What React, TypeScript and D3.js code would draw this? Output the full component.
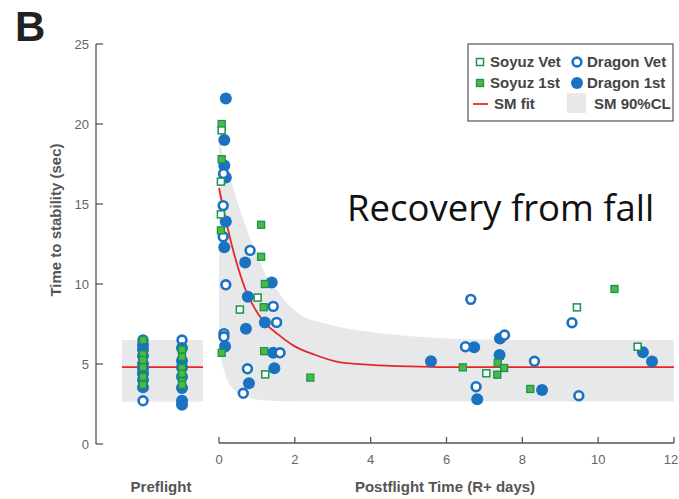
import React from "react";
import * as d3 from "d3";

// ---------- data ----------
const yTicks = [0, 5, 10, 15, 20, 25];
const xTicks = [0, 2, 4, 6, 8, 10, 12];
const preflightColumns = ["pre-1", "pre-2"];

// Preflight values [column, seconds]
const preSoyuzFirst: [string, number][] = [
  ["pre-1", 6.5], ["pre-1", 5.6], ["pre-1", 5.25], ["pre-1", 4.8], ["pre-1", 4.2], ["pre-1", 3.7],
  ["pre-2", 5.9], ["pre-2", 5.45], ["pre-2", 4.75], ["pre-2", 4.4], ["pre-2", 3.9], ["pre-2", 3.7],
];
const preDragonVet: [string, number][] = [
  ["pre-1", 6.5], ["pre-1", 2.7], ["pre-2", 6.5],
];
const preDragonFirst: [string, number][] = [
  ["pre-1", 6.2], ["pre-1", 5.9], ["pre-1", 5.5], ["pre-1", 5.0], ["pre-1", 4.7], ["pre-1", 4.4], ["pre-1", 4.0], ["pre-1", 3.55],
  ["pre-2", 6.0], ["pre-2", 5.2], ["pre-2", 4.8], ["pre-2", 4.2], ["pre-2", 3.5], ["pre-2", 2.7], ["pre-2", 2.45],
];
const preflightFit = 4.8;
const preflightCL: [number, number] = [2.65, 6.5];

// Postflight values [R+ days, seconds]
const soyuzVet: [number, number][] = [
  [0.07, 19.6], [0.05, 16.4], [0.05, 14.35], [1.02, 9.15], [0.55, 8.4], [1.22, 4.35],
  [9.44, 8.54], [11.04, 6.08], [7.05, 4.42],
];
const soyuzFirst: [number, number][] = [
  [0.07, 20.0], [0.07, 17.8], [0.05, 13.35], [1.11, 13.7], [1.11, 11.7], [1.21, 10.0], [1.18, 8.55],
  [0.07, 5.7], [1.19, 5.8], [2.41, 4.15], [10.43, 9.69], [6.43, 4.79], [7.35, 5.08], [7.52, 4.75],
  [7.34, 4.33], [8.21, 3.44],
];
const dragonVet: [number, number][] = [
  [0.12, 16.9], [0.11, 14.9], [0.11, 12.95], [0.82, 12.1], [0.18, 9.95], [1.43, 8.6], [1.52, 7.6],
  [0.13, 6.9], [0.13, 6.7], [1.61, 5.7], [0.75, 4.7], [0.64, 3.17], [6.64, 9.04], [9.31, 7.58],
  [7.53, 6.81], [6.5, 6.08], [8.32, 5.17], [6.78, 3.58], [9.49, 3.02],
];
const dragonFirst: [number, number][] = [
  [0.18, 21.6], [0.14, 19.0], [0.14, 17.4], [0.18, 16.65], [0.18, 13.9], [0.14, 12.3], [0.69, 11.35],
  [1.39, 10.1], [0.76, 9.2], [1.21, 7.6], [0.71, 7.2], [0.16, 6.1], [1.43, 5.7], [1.46, 4.73],
  [0.79, 3.8], [7.41, 6.6], [6.73, 6.04], [7.4, 5.56], [5.59, 5.17], [11.18, 5.73], [11.42, 5.15],
  [8.52, 3.38], [6.81, 2.79],
];

// SM fit curve and 90% confidence band
const fitCurve: [number, number][] = [
  [0, 16.0], [0.33, 12.5], [0.69, 9.7], [1.13, 7.8], [1.56, 6.85], [2.0, 6.1], [2.5, 5.6],
  [3.2, 5.1], [4, 4.95], [5, 4.85], [6, 4.8], [12, 4.8],
];
const bandUpper: [number, number][] = [
  [0, 19.0], [0.2, 17.4], [0.4, 15.8], [0.6, 14.3], [0.8, 13.0], [1.0, 11.9], [1.2, 10.7],
  [1.5, 9.7], [1.8, 8.8], [2.2, 8.0], [2.7, 7.6], [3.2, 7.3], [4, 7.0], [5, 6.75], [6, 6.6],
  [8, 6.5], [12, 6.5],
];
const bandLower: [number, number][] = [
  [0, 5.8], [0.1, 4.9], [0.2, 4.1], [0.35, 3.5], [0.5, 3.2], [0.7, 2.95], [1.0, 2.78],
  [1.5, 2.68], [2, 2.65], [12, 2.65],
];

// ---------- styles ----------
const BLUE = "#1b72c2";
const GREEN_FILL = "#4db848";
const GREEN_STROKE = "#17964a";
const RED = "#e8262a";
const BAND = "#e7e8ea";
const AXIS = "#555";
const FONT = "'Liberation Sans', Arial, Helvetica, sans-serif";

const y = d3.scaleLinear().domain([0, 25]).range([444, 44]);
const xPost = d3.scaleLinear().domain([0, 12]).range([219, 674]);
const xPre = d3.scalePoint<string>().domain(preflightColumns).range([143, 182]);
const prePad = 21;

function OpenCircle({ cx, cy }: { cx: number; cy: number }) {
  return <circle cx={cx} cy={cy} r={4.4} fill="#fff" stroke={BLUE} strokeWidth={2.6} />;
}
function FilledCircle({ cx, cy }: { cx: number; cy: number }) {
  return <circle cx={cx} cy={cy} r={6} fill={BLUE} />;
}
function OpenSquare({ cx, cy }: { cx: number; cy: number }) {
  return <rect x={cx - 3.5} y={cy - 3.5} width={7} height={7} fill="#fff" stroke={GREEN_STROKE} strokeWidth={1.5} />;
}
function FilledSquare({ cx, cy }: { cx: number; cy: number }) {
  return <rect x={cx - 3.5} y={cy - 3.5} width={7} height={7} fill={GREEN_FILL} stroke={GREEN_STROKE} strokeWidth={1.3} />;
}

export default function App() {
  const line = d3
    .line<[number, number]>()
    .x((d) => xPost(d[0]))
    .y((d) => y(d[1]))
    .curve(d3.curveMonotoneX);

  const upperStr = line(bandUpper)!;
  const lowerStr = line(bandLower)!;

  const preX0 = xPre(preflightColumns[0])! - prePad;
  const preX1 = xPre(preflightColumns[1])! + prePad;

  return (
    <svg width={679} height={499} style={{ position: "absolute", left: 0, top: 0 }} fontFamily={FONT}>
      <rect width={679} height={499} fill="#fff" />
      <text x={15} y={41} fontSize={42} fontWeight="bold" fill="#222">B</text>

      {/* confidence bands */}
      <rect x={preX0} y={y(preflightCL[1])} width={preX1 - preX0} height={y(preflightCL[0]) - y(preflightCL[1])} fill={BAND} />
      <clipPath id="upperClip">
        <path d={upperStr + `L${xPost(12)},${y(0)}L${xPost(0)},${y(0)}Z`} />
      </clipPath>
      <clipPath id="lowerClip">
        <path d={lowerStr + `L${xPost(12)},${y(25)}L${xPost(0)},${y(25)}Z`} />
      </clipPath>
      <g clipPath="url(#upperClip)">
        <rect x={xPost(0)} y={y(25)} width={xPost(12) - xPost(0)} height={y(0) - y(25)} fill={BAND} clipPath="url(#lowerClip)" />
      </g>

      {/* fit lines */}
      <line x1={preX0} x2={preX1} y1={y(preflightFit)} y2={y(preflightFit)} stroke={RED} strokeWidth={1.8} />
      <path d={line(fitCurve)!} fill="none" stroke={RED} strokeWidth={1.8} />

      {/* points */}
      {preDragonVet.map((d, i) => <OpenCircle key={"pdv" + i} cx={xPre(d[0])!} cy={y(d[1])} />)}
      {preDragonFirst.map((d, i) => <FilledCircle key={"pdf" + i} cx={xPre(d[0])!} cy={y(d[1])} />)}
      {preSoyuzFirst.map((d, i) => <FilledSquare key={"psf" + i} cx={xPre(d[0])!} cy={y(d[1])} />)}

      {dragonFirst.map((d, i) => <FilledCircle key={"df" + i} cx={xPost(d[0])} cy={y(d[1])} />)}
      {dragonVet.map((d, i) => <OpenCircle key={"dv" + i} cx={xPost(d[0])} cy={y(d[1])} />)}
      {soyuzFirst.map((d, i) => <FilledSquare key={"sf" + i} cx={xPost(d[0])} cy={y(d[1])} />)}
      {soyuzVet.map((d, i) => <OpenSquare key={"sv" + i} cx={xPost(d[0])} cy={y(d[1])} />)}

      {/* axes */}
      <g stroke={AXIS} strokeWidth={1.3} fill="none">
        <line x1={96} x2={96} y1={y(25)} y2={y(0)} />
        {yTicks.map((t) => <line key={t} x1={96} x2={103} y1={y(t)} y2={y(t)} />)}
        <line x1={xPost(0)} x2={xPost(12)} y1={y(0) - 1} y2={y(0) - 1} />
        {xTicks.map((t) => <line key={t} x1={xPost(t)} x2={xPost(t)} y1={y(0) - 1} y2={y(0) - 7} />)}
      </g>
      <g fill="#666" fontSize={13}>
        {yTicks.map((t) => (
          <text key={t} x={89} y={y(t)} dy="0.35em" textAnchor="end">{t}</text>
        ))}
        {xTicks.map((t) => (
          <text key={t} x={Math.min(xPost(t), 671)} y={464} textAnchor="middle">{t}</text>
        ))}
      </g>
      <g fill="#555" fontSize={15} fontWeight="bold">
        <text x={161} y={492} textAnchor="middle">Preflight</text>
        <text x={445} y={492} textAnchor="middle">Postflight Time (R+ days)</text>
        <text transform="translate(61,220) rotate(-90)" textAnchor="middle">Time to stability (sec)</text>
      </g>

      <text x={347} y={221} fontSize={36.5} fontFamily="'Open Sans', 'Noto Sans', sans-serif" fill="#111">Recovery from fall</text>

      {/* legend */}
      <rect x={468} y={44} width={205} height={77} fill="#fff" stroke="#555" strokeWidth={1.2} />
      <OpenSquare cx={480} cy={62} />
      <FilledSquare cx={480} cy={83} />
      <line x1={473} x2={488} y1={104} y2={104} stroke={RED} strokeWidth={1.8} />
      <OpenCircle cx={577} cy={62} />
      <FilledCircle cx={577} cy={83} />
      <rect x={567} y={93} width={19} height={20} fill={BAND} />
      <g fill="#444" fontSize={15} fontWeight="bold">
        <text x={490} y={67}>Soyuz Vet</text>
        <text x={490} y={88}>Soyuz 1st</text>
        <text x={494} y={109}>SM fit</text>
        <text x={587} y={67}>Dragon Vet</text>
        <text x={587} y={88}>Dragon 1st</text>
        <text x={594} y={109}>SM 90%CL</text>
      </g>
    </svg>
  );
}
